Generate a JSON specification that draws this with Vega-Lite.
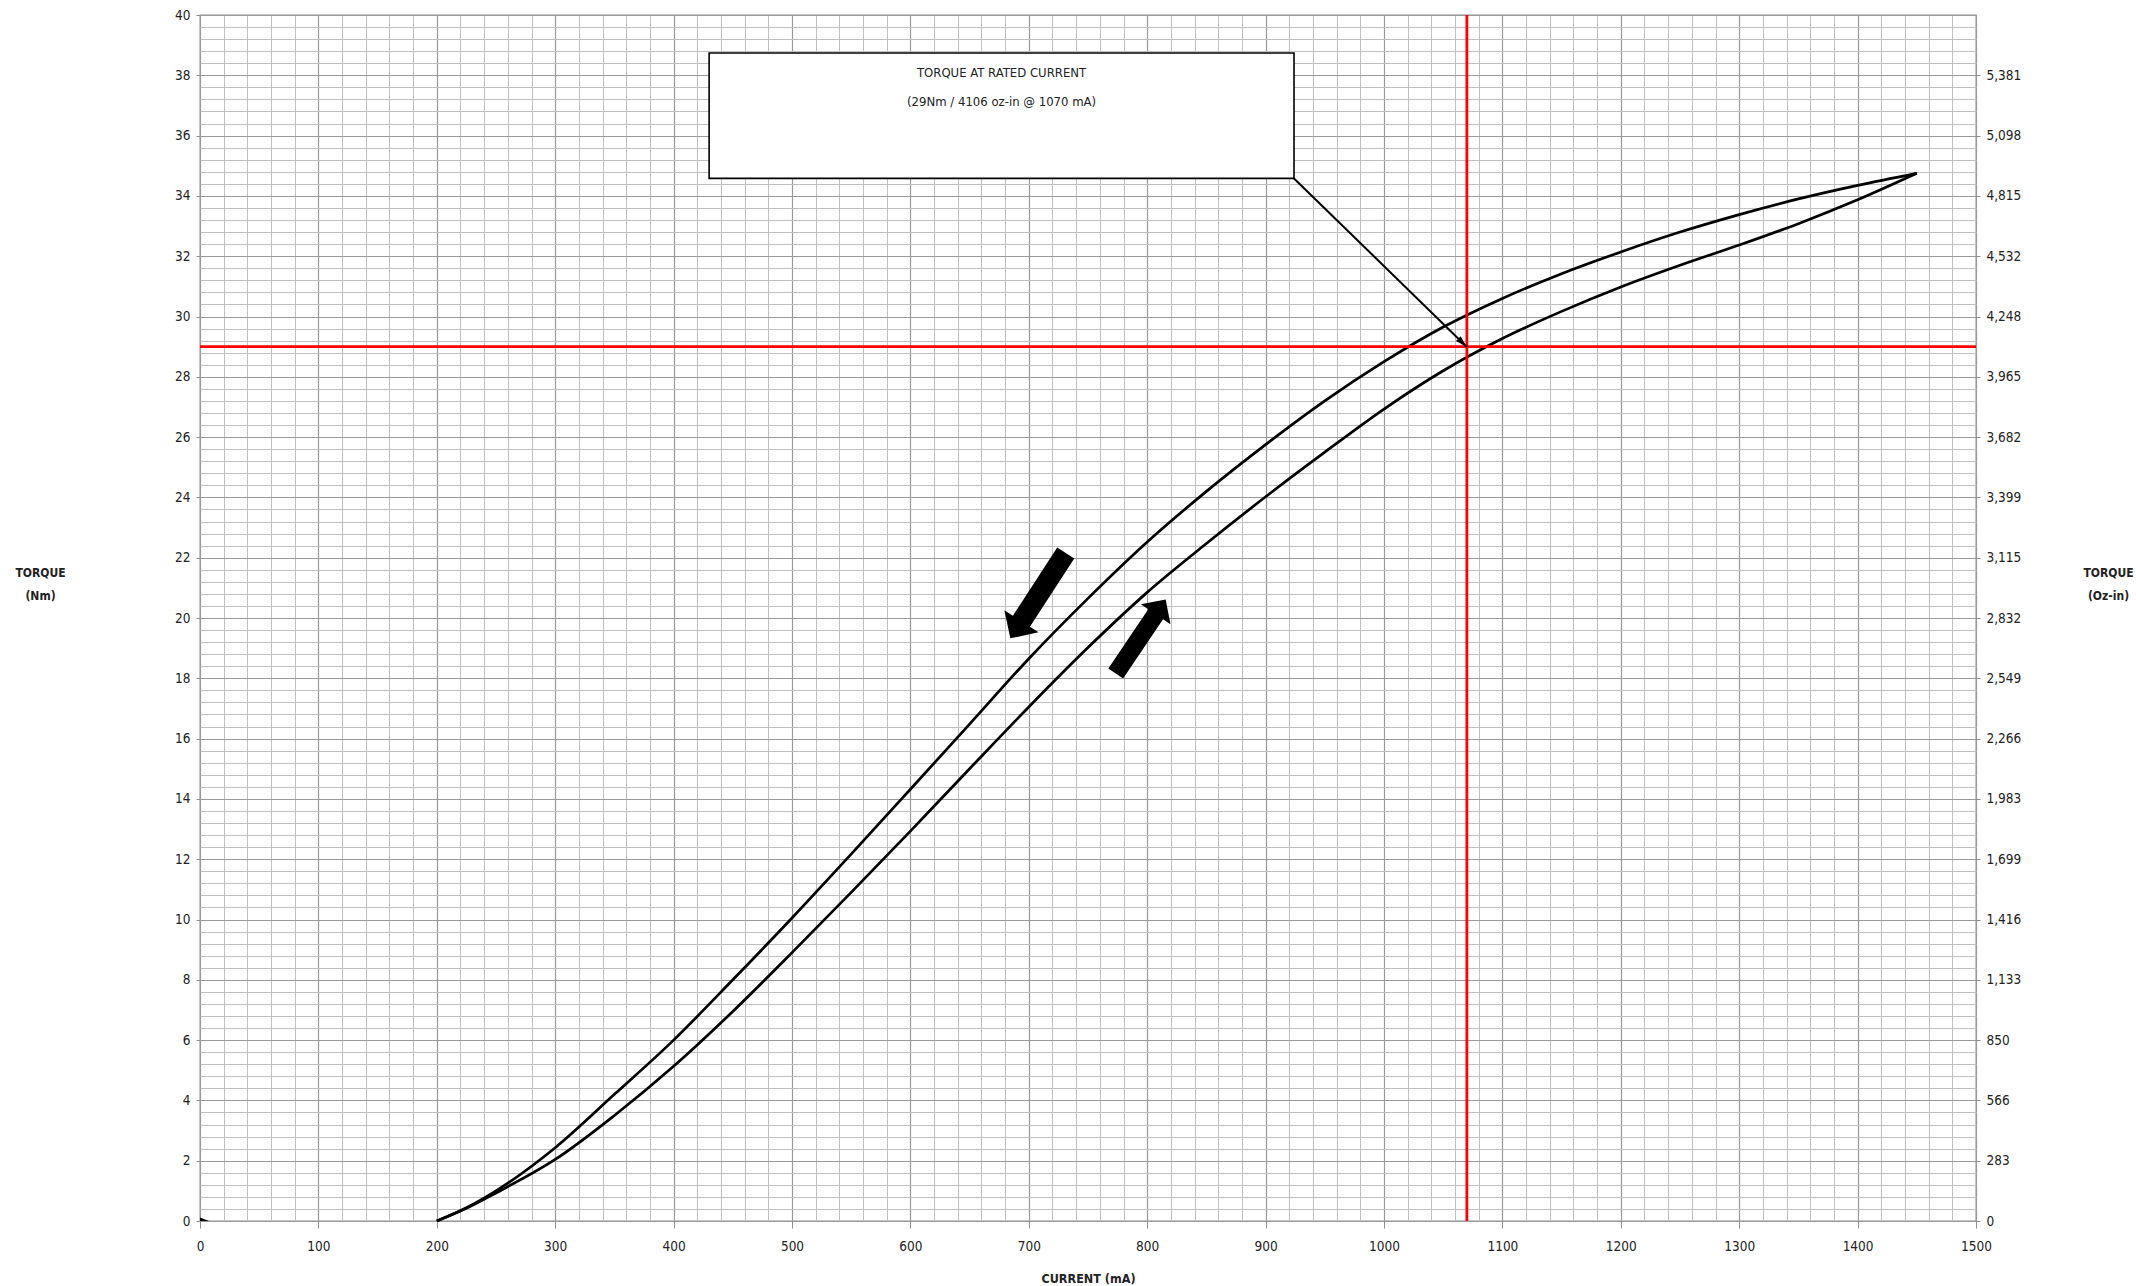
{
  "$schema": "https://vega.github.io/schema/vega-lite/v6.json",
  "width": 1776,
  "height": 1206,
  "autosize": {"type": "none"},
  "padding": {"left": 200, "top": 15, "right": 160, "bottom": 65},
  "background": "white",
  "config": {
    "view": {"stroke": "#8c8c8c", "strokeWidth": 1.3},
    "axis": {
      "labelFont": "Liberation Sans Narrow, DejaVu Sans Condensed, sans-serif",
      "titleFont": "Liberation Sans Narrow, DejaVu Sans Condensed, sans-serif",
      "labelColor": "#222222",
      "titleColor": "#222222"
    },
    "text": {"font": "Liberation Sans Narrow, DejaVu Sans Condensed, sans-serif"}
  },
  "datasets": {
    "curves": [
      {"current": 200, "torque": 0, "branch": "increasing"},
      {"current": 225, "torque": 0.42, "branch": "increasing"},
      {"current": 250, "torque": 0.93, "branch": "increasing"},
      {"current": 300, "torque": 2.04, "branch": "increasing"},
      {"current": 350, "torque": 3.5, "branch": "increasing"},
      {"current": 400, "torque": 5.13, "branch": "increasing"},
      {"current": 450, "torque": 6.95, "branch": "increasing"},
      {"current": 500, "torque": 8.9, "branch": "increasing"},
      {"current": 550, "torque": 10.9, "branch": "increasing"},
      {"current": 600, "torque": 12.93, "branch": "increasing"},
      {"current": 650, "torque": 15.0, "branch": "increasing"},
      {"current": 700, "torque": 17.05, "branch": "increasing"},
      {"current": 750, "torque": 19.02, "branch": "increasing"},
      {"current": 800, "torque": 20.85, "branch": "increasing"},
      {"current": 850, "torque": 22.47, "branch": "increasing"},
      {"current": 900, "torque": 24.02, "branch": "increasing"},
      {"current": 950, "torque": 25.5, "branch": "increasing"},
      {"current": 1000, "torque": 26.93, "branch": "increasing"},
      {"current": 1050, "torque": 28.2, "branch": "increasing"},
      {"current": 1100, "torque": 29.27, "branch": "increasing"},
      {"current": 1150, "torque": 30.17, "branch": "increasing"},
      {"current": 1200, "torque": 30.98, "branch": "increasing"},
      {"current": 1250, "torque": 31.7, "branch": "increasing"},
      {"current": 1300, "torque": 32.37, "branch": "increasing"},
      {"current": 1350, "torque": 33.08, "branch": "increasing"},
      {"current": 1400, "torque": 33.87, "branch": "increasing"},
      {"current": 1450, "torque": 34.75, "branch": "increasing"},
      {"current": 200, "torque": 0, "branch": "decreasing"},
      {"current": 225, "torque": 0.44, "branch": "decreasing"},
      {"current": 250, "torque": 1.0, "branch": "decreasing"},
      {"current": 300, "torque": 2.43, "branch": "decreasing"},
      {"current": 350, "torque": 4.2, "branch": "decreasing"},
      {"current": 400, "torque": 6.0, "branch": "decreasing"},
      {"current": 450, "torque": 8.0, "branch": "decreasing"},
      {"current": 500, "torque": 10.05, "branch": "decreasing"},
      {"current": 550, "torque": 12.17, "branch": "decreasing"},
      {"current": 600, "torque": 14.32, "branch": "decreasing"},
      {"current": 650, "torque": 16.48, "branch": "decreasing"},
      {"current": 700, "torque": 18.65, "branch": "decreasing"},
      {"current": 750, "torque": 20.65, "branch": "decreasing"},
      {"current": 800, "torque": 22.52, "branch": "decreasing"},
      {"current": 850, "torque": 24.2, "branch": "decreasing"},
      {"current": 900, "torque": 25.75, "branch": "decreasing"},
      {"current": 950, "torque": 27.2, "branch": "decreasing"},
      {"current": 1000, "torque": 28.5, "branch": "decreasing"},
      {"current": 1050, "torque": 29.65, "branch": "decreasing"},
      {"current": 1100, "torque": 30.6, "branch": "decreasing"},
      {"current": 1150, "torque": 31.42, "branch": "decreasing"},
      {"current": 1200, "torque": 32.14, "branch": "decreasing"},
      {"current": 1250, "torque": 32.8, "branch": "decreasing"},
      {"current": 1300, "torque": 33.38, "branch": "decreasing"},
      {"current": 1350, "torque": 33.9, "branch": "decreasing"},
      {"current": 1400, "torque": 34.35, "branch": "decreasing"},
      {"current": 1450, "torque": 34.75, "branch": "decreasing"}
    ],
    "origin_mark": [{"current": 0, "torque": 0}],
    "rated_current": [{"current": 1070}],
    "rated_torque": [{"torque": 29}],
    "box": [{"x1": 430, "x2": 924, "y1": 34.58, "y2": 38.74}],
    "box_text": [
      {"current": 677, "torque": 38.08, "label": "TORQUE AT RATED CURRENT"},
      {"current": 677, "torque": 37.11, "label": "(29Nm / 4106 oz-in @ 1070 mA)"}
    ],
    "leader": [{"x1": 924, "y1": 34.58, "x2": 1070, "y2": 28.99}],
    "arrow_down": [{"current": 707.8, "torque": 20.74}],
    "arrow_up": [{"current": 794.5, "torque": 19.39}]
  },
  "layer": [
    {
      "data": {"name": "curves"},
      "mark": {"type": "point", "opacity": 0},
      "encoding": {
        "x": {"field": "current", "type": "quantitative", "scale": {"domain": [0, 1500], "nice": false},
          "axis": {"orient": "bottom", "values": [0,20,40,60,80,100,120,140,160,180,200,220,240,260,280,300,320,340,360,380,400,420,440,460,480,500,520,540,560,580,600,620,640,660,680,700,720,740,760,780,800,820,840,860,880,900,920,940,960,980,1000,1020,1040,1060,1080,1100,1120,1140,1160,1180,1200,1220,1240,1260,1280,1300,1320,1340,1360,1380,1400,1420,1440,1460,1480,1500],
            "grid": true, "gridColor": "#bfbfbf", "gridWidth": 1, "labels": false, "ticks": false, "domain": false, "title": null}},
        "y": {"field": "torque", "type": "quantitative", "scale": {"domain": [0, 40], "nice": false},
          "axis": {"orient": "left", "values": [0,0.4,0.8,1.2,1.6,2,2.4,2.8,3.2,3.6,4,4.4,4.8,5.2,5.6,6,6.4,6.8,7.2,7.6,8,8.4,8.8,9.2,9.6,10,10.4,10.8,11.2,11.6,12,12.4,12.8,13.2,13.6,14,14.4,14.8,15.2,15.6,16,16.4,16.8,17.2,17.6,18,18.4,18.8,19.2,19.6,20,20.4,20.8,21.2,21.6,22,22.4,22.8,23.2,23.6,24,24.4,24.8,25.2,25.6,26,26.4,26.8,27.2,27.6,28,28.4,28.8,29.2,29.6,30,30.4,30.8,31.2,31.6,32,32.4,32.8,33.2,33.6,34,34.4,34.8,35.2,35.6,36,36.4,36.8,37.2,37.6,38,38.4,38.8,39.2,39.6,40],
            "grid": true, "gridColor": "#bfbfbf", "gridWidth": 1, "labels": false, "ticks": false, "domain": false, "title": null}}
      }
    },
    {
      "data": {"name": "curves"},
      "mark": {"type": "line", "color": "black", "strokeWidth": 2.7, "interpolate": "monotone"},
      "encoding": {
        "x": {"field": "current", "type": "quantitative", "scale": {"domain": [0, 1500], "nice": false},
          "axis": {"orient": "bottom", "values": [0,100,200,300,400,500,600,700,800,900,1000,1100,1200,1300,1400,1500],
            "format": "d",
            "grid": true, "gridColor": "#999999", "gridWidth": 1.2, "domain": false, "tickColor": "#8c8c8c", "tickSize": 7,
            "labelFontSize": 13.5, "labelPadding": 11, "labelFlush": false, "labelOverlap": false,
            "title": "CURRENT (mA)", "titleFontSize": 12.5, "titleFontWeight": "bold", "titleX": 888, "titleY": 61,
            "titleAlign": "center", "titleBaseline": "alphabetic"}},
        "y": {"field": "torque", "type": "quantitative", "scale": {"domain": [0, 40], "nice": false},
          "axis": {"orient": "left", "values": [0,2,4,6,8,10,12,14,16,18,20,22,24,26,28,30,32,34,36,38,40],
            "grid": true, "gridColor": "#999999", "gridWidth": 1.2, "domain": false, "tickColor": "#8c8c8c", "tickSize": 4,
            "labelFontSize": 13.5, "labelPadding": 6, "labelOverlap": false,
            "title": ["TORQUE", "(Nm)"], "titleFontSize": 12, "titleFontWeight": "bold", "titleAngle": 0,
            "titleX": -160, "titleY": 561, "titleAlign": "center", "titleBaseline": "alphabetic", "titleLineHeight": 23}},
        "detail": {"field": "branch", "type": "nominal"}
      }
    },
    {
      "data": {"name": "curves"},
      "mark": {"type": "point", "opacity": 0},
      "encoding": {
        "x": {"field": "current", "type": "quantitative", "axis": null},
        "y": {"field": "torque", "type": "quantitative",
          "axis": {"orient": "right", "values": [0,2,4,6,8,10,12,14,16,18,20,22,24,26,28,30,32,34,36,38],
            "labelExpr": "format(datum.value * 141.612, ',.0f')",
            "grid": false, "domain": false, "tickColor": "#8c8c8c", "tickSize": 4,
            "labelFontSize": 13.5, "labelPadding": 6, "labelOverlap": false,
            "title": ["TORQUE", "(Oz-in)"], "titleFontSize": 12, "titleFontWeight": "bold", "titleAngle": 0,
            "titleX": 132, "titleY": 561, "titleAlign": "center", "titleBaseline": "alphabetic", "titleLineHeight": 23}}
      }
    },
    {
      "data": {"name": "origin_mark"},
      "mark": {"type": "point", "shape": "M0,-1.2L3,0L0,0Z", "size": 36, "filled": true, "color": "black", "opacity": 1},
      "encoding": {
        "x": {"field": "current", "type": "quantitative", "axis": null},
        "y": {"field": "torque", "type": "quantitative", "axis": null}
      }
    },
    {
      "data": {"name": "rated_current"},
      "mark": {"type": "rule", "color": "#ff0000", "strokeWidth": 2.8},
      "encoding": {"x": {"field": "current", "type": "quantitative", "axis": null}}
    },
    {
      "data": {"name": "rated_torque"},
      "mark": {"type": "rule", "color": "#ff0000", "strokeWidth": 2.8},
      "encoding": {"y": {"field": "torque", "type": "quantitative", "axis": null}}
    },
    {
      "data": {"name": "leader"},
      "mark": {"type": "rule", "color": "black", "strokeWidth": 2},
      "encoding": {
        "x": {"field": "x1", "type": "quantitative", "axis": null},
        "y": {"field": "y1", "type": "quantitative", "axis": null},
        "x2": {"field": "x2"},
        "y2": {"field": "y2"}
      }
    },
    {
      "data": {"name": "leader"},
      "mark": {"type": "point", "shape": "M0,0L0.55,2L-0.55,2Z", "size": 144, "angle": 134.4, "filled": true, "color": "black", "opacity": 1},
      "encoding": {
        "x": {"field": "x2", "type": "quantitative", "axis": null},
        "y": {"field": "y2", "type": "quantitative", "axis": null}
      }
    },
    {
      "data": {"name": "box"},
      "mark": {"type": "rect", "fill": "white", "stroke": "black", "strokeWidth": 1.6},
      "encoding": {
        "x": {"field": "x1", "type": "quantitative", "axis": null},
        "x2": {"field": "x2"},
        "y": {"field": "y1", "type": "quantitative", "axis": null},
        "y2": {"field": "y2"}
      }
    },
    {
      "data": {"name": "box_text"},
      "mark": {"type": "text", "fontSize": 13, "color": "#222222", "align": "center", "baseline": "middle"},
      "encoding": {
        "x": {"field": "current", "type": "quantitative", "axis": null},
        "y": {"field": "torque", "type": "quantitative", "axis": null},
        "text": {"field": "label", "type": "nominal"}
      }
    },
    {
      "data": {"name": "arrow_down"},
      "mark": {"type": "point", "shape": "M0,-1L0.4,-0.6L0.2,-0.6L0.2,1L-0.2,1L-0.2,-0.6L-0.4,-0.6Z", "size": 10340, "angle": 213, "filled": true, "color": "black", "opacity": 1, "strokeWidth": 0},
      "encoding": {
        "x": {"field": "current", "type": "quantitative", "axis": null},
        "y": {"field": "torque", "type": "quantitative", "axis": null}
      }
    },
    {
      "data": {"name": "arrow_up"},
      "mark": {"type": "point", "shape": "M0,-1L0.4,-0.6L0.2,-0.6L0.2,1L-0.2,1L-0.2,-0.6L-0.4,-0.6Z", "size": 7974, "angle": 34, "filled": true, "color": "black", "opacity": 1, "strokeWidth": 0},
      "encoding": {
        "x": {"field": "current", "type": "quantitative", "axis": null},
        "y": {"field": "torque", "type": "quantitative", "axis": null}
      }
    }
  ],
  "resolve": {"axis": {"x": "independent", "y": "independent"}}
}
